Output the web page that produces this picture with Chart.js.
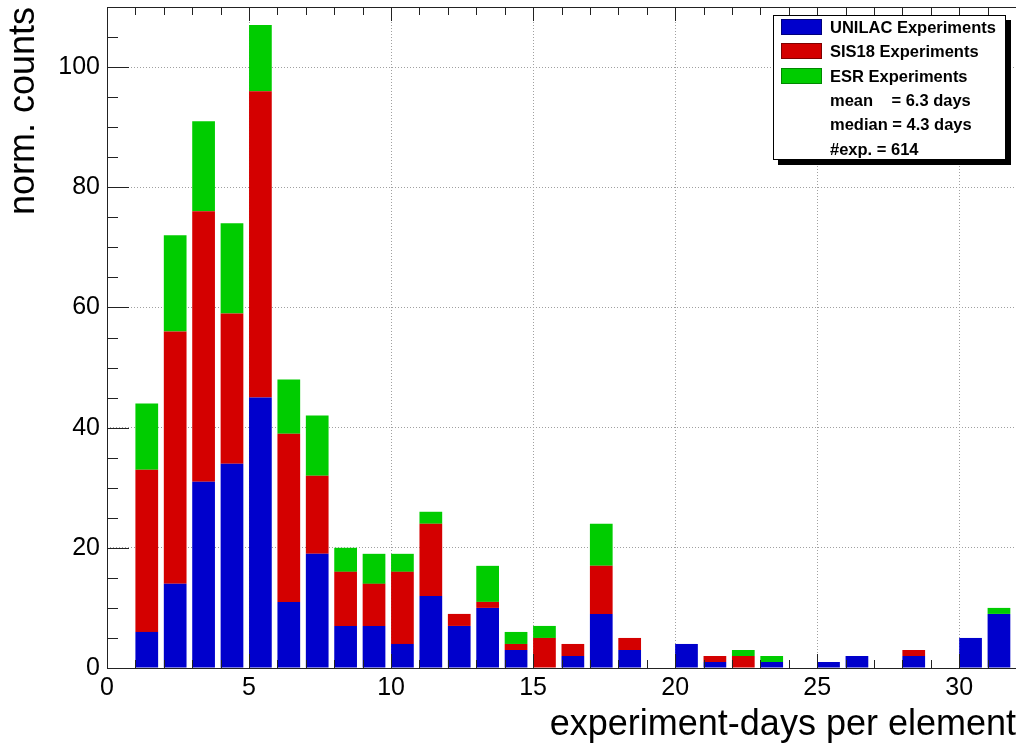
<!DOCTYPE html>
<html>
<head>
<meta charset="utf-8">
<script src="https://cdn.jsdelivr.net/npm/chart.js@4/dist/chart.umd.min.js"></script>
<style>
  html, body { margin: 0; padding: 0; background: #fff; }
  #wrap { position: relative; width: 1016px; height: 747px; overflow: hidden; }
  #legend { position: absolute; left: 773px; top: 15px; width: 231px; height: 143px;
            border: 1px solid #000; background: #fff; box-shadow: 5px 5px 0 #000;
            font-family: "Liberation Sans", Arial, sans-serif; font-weight: bold;
            font-size: 16.5px; color: #000; }
  .row { position: absolute; left: 0; height: 24px; line-height: 24px; white-space: pre; }
  .sw { position: absolute; left: 7px; top: 4px; width: 41px; height: 16px; box-sizing: border-box; }
  .tx { position: absolute; left: 56px; top: 0; }
</style>
</head>
<body>
<div id="wrap">
  <canvas id="c" width="1016" height="747"></canvas>
  <div id="legend"></div>
</div>
<script>
// ---------------- data ----------------
const bins   = [1,2,3,4,5,6,7,8,9,10,11,12,13,14,15,16,17,18,19,20,21,22,23,24,25,26,27,28,29,30,31];
const unilac = [6,14,31,34,45,11,19,7,7,4,12,7,10,3,0,2,9,3,0,4,1,0,1,0,1,2,0,2,0,5,9];
const sis18  = [27,42,45,25,51,28,13,9,7,12,12,2,1,1,5,2,8,2,0,0,1,2,0,0,0,0,0,1,0,0,0];
const esr    = [11,16,15,15,11,9,10,4,5,3,2,0,6,2,2,0,7,0,0,0,0,1,1,0,0,0,0,0,0,0,1];
const seriesLabels = ['UNILAC Experiments', 'SIS18 Experiments', 'ESR Experiments'];
const statsLines   = ['mean    = 6.3 days', 'median = 4.3 days', '#exp. = 614'];
const xTickValues  = [0, 5, 10, 15, 20, 25, 30];
const yTickValues  = [0, 20, 40, 60, 80, 100];
const xTitle = 'experiment-days per element';
const yTitle = 'norm. counts';

// ---------------- style ----------------
const seriesColors = ['#0000cc', '#d40000', '#00cc00'];
const swatchBorders = ['#00007a', '#800000', '#008800'];
const BAR_FRAC = 0.8;
const FONT = 'Liberation Sans, Arial, sans-serif';

const seriesValues = [unilac, sis18, esr];
const datasets = seriesValues.map((vals, k) => ({
  label: seriesLabels[k],
  backgroundColor: seriesColors[k],
  borderWidth: 0,
  data: bins.map((b, i) => ({ x: b + BAR_FRAC / 2, y: vals[i] }))
}));

const frameTicks = {
  id: 'frameTicks',
  afterDatasetsDraw(chart) {
    const { ctx, chartArea: a, scales: { x, y } } = chart;
    ctx.save();
    ctx.strokeStyle = '#222';
    ctx.lineWidth = 1;
    ctx.beginPath();
    for (let v = x.min; v <= x.max; v += 1) {
      const p = Math.round(x.getPixelForValue(v)) + 0.5;
      const L = v % 5 === 0 ? 14 : 8;
      ctx.moveTo(p, a.bottom); ctx.lineTo(p, a.bottom - L);
      ctx.moveTo(p, a.top);    ctx.lineTo(p, a.top + L);
    }
    for (let v = y.min; v <= y.max; v += 5) {
      const p = Math.round(y.getPixelForValue(v)) + 0.5;
      const L = v % 20 === 0 ? 22 : 11;
      ctx.moveTo(a.left, p); ctx.lineTo(a.left + L, p);
    }
    ctx.stroke();
    ctx.strokeRect(Math.round(a.left) + 0.5, Math.round(a.top) + 0.5,
                   Math.round(a.right - a.left) + 2, Math.round(a.bottom - a.top));
    ctx.restore();
  }
};

new Chart(document.getElementById('c'), {
  type: 'bar',
  data: { datasets },
  plugins: [frameTicks],
  options: {
    responsive: false,
    animation: false,
    devicePixelRatio: 1,
    layout: { padding: { left: 0, right: 0, top: 7, bottom: 0 } },
    plugins: { legend: { display: false }, tooltip: { enabled: false } },
    datasets: { bar: { barPercentage: BAR_FRAC, categoryPercentage: 1.0 } },
    scales: {
      x: {
        type: 'linear', min: 0, max: 32, stacked: true, offset: false,
        afterBuildTicks: s => { s.ticks = xTickValues.map(v => ({ value: v })); },
        afterFit: s => { s.height = 79; s.paddingLeft = 0; s.paddingRight = 0; },
        ticks: { font: { family: FONT, size: 25 }, color: '#000', padding: 5,
                 autoSkip: false, maxRotation: 0 },
        grid: { color: '#a0a0a0', lineWidth: 1, drawTicks: false, offset: false },
        border: { display: false, dash: [1, 2] },
        title: { display: true, text: xTitle, align: 'end', color: '#000',
                 font: { family: FONT, size: 36 }, padding: { top: 0, bottom: 0 } }
      },
      y: {
        type: 'linear', min: 0, max: 110, stacked: true,
        afterBuildTicks: s => { s.ticks = yTickValues.map(v => ({ value: v })); },
        afterFit: s => { s.width = 107; s.paddingTop = 0; s.paddingBottom = 0; },
        ticks: { font: { family: FONT, size: 25 }, color: '#000', padding: 7 },
        grid: { color: '#a0a0a0', lineWidth: 1, drawTicks: false },
        border: { display: false, dash: [1, 2] },
        title: { display: true, text: yTitle, align: 'end', color: '#000',
                 font: { family: FONT, size: 36 }, padding: { top: 2, bottom: 0 } }
      }
    }
  }
});

// ---------------- legend (HTML) ----------------
const legend = document.getElementById('legend');
const rowTops = [0, 1, 2, 3, 4, 5].map(i => Math.round(-1 + i * 24.3));
seriesLabels.forEach((lab, k) => {
  const r = document.createElement('div');
  r.className = 'row';
  r.style.top = rowTops[k] + 'px';
  const sw = document.createElement('div');
  sw.className = 'sw';
  sw.style.background = seriesColors[k];
  sw.style.border = '1px solid ' + swatchBorders[k];
  const t = document.createElement('span');
  t.className = 'tx';
  t.textContent = lab;
  r.appendChild(sw); r.appendChild(t);
  legend.appendChild(r);
});
statsLines.forEach((s, j) => {
  const r = document.createElement('div');
  r.className = 'row';
  r.style.top = rowTops[3 + j] + 'px';
  const t = document.createElement('span');
  t.className = 'tx';
  t.textContent = s;
  r.appendChild(t);
  legend.appendChild(r);
});
</script>
</body>
</html>
